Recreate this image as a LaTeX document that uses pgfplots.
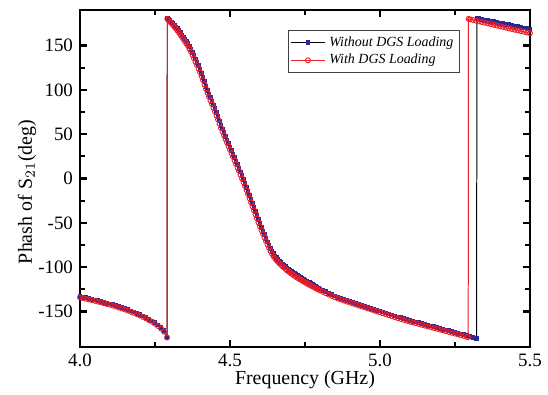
\documentclass[border=0pt]{standalone}
\usepackage{pgfplots}
\pgfplotsset{compat=1.18}
\usepackage{fontspec}
\setmainfont{Liberation Serif}
\definecolor{myred}{RGB}{236,28,36}
\definecolor{mynavy}{RGB}{40,40,150}
\begin{document}
\begin{tikzpicture}
\begin{axis}[
  scale only axis,
  width=225bp, height=168.5bp,
  xmin=4, xmax=5.5, ymin=-190, ymax=190,
  xtick={4,4.5,5,5.5}, ytick={-150,-100,-50,0,50,100,150},
  minor x tick num=1, minor y tick num=1,
  tick align=inside,
  major tick length=3.5bp, minor tick length=2.5bp,
  axis line style={line width=1.2pt},
  every tick/.style={line width=1.1pt, black},
  /pgf/number format/assume math mode=true,
  xticklabel style={/pgf/number format/.cd,fixed,fixed zerofill,precision=1},
  yticklabel style={/pgf/number format/.cd,fixed},
  tick label style={font=\fontsize{9.5}{11}\selectfont},
  label style={font=\fontsize{10}{12}\selectfont},
  xlabel={Frequency (GHz)},
  ylabel={Phash of S$_{21}$(deg)},
  xlabel style={at={(axis description cs:0.5,-0.098)}, anchor=center},
  ylabel style={at={(axis description cs:-0.118,0.46)}, anchor=center},
  legend style={at={(axis description cs:0.462,0.941)}, anchor=north west,
    font=\fontsize{7}{8}\selectfont\itshape, draw=darkgray, line width=0.5pt,
    inner sep=1pt, row sep=-1.5pt},
  legend cell align=left,
]
\addplot[black, line width=0.5pt, mark=square*, mark size=0.95bp,
  mark options={draw=mynavy, fill=mynavy}] table[row sep=\\] {
x y\\
4.00 -133\\ 4.01 -133.8\\ 4.02 -134.6\\ 4.03 -135.4\\ 4.04 -136.2\\ 4.05 -137\\
4.06 -137.8\\ 4.07 -138.7\\ 4.08 -139.6\\ 4.09 -140.5\\ 4.10 -141.4\\ 4.11 -142.4\\
4.12 -143.4\\ 4.13 -144.5\\ 4.14 -145.6\\ 4.15 -146.8\\ 4.16 -148\\ 4.17 -149.3\\
4.18 -150.6\\ 4.19 -152\\ 4.20 -153.5\\ 4.21 -155.1\\ 4.22 -156.8\\ 4.23 -158.6\\
4.24 -160.6\\ 4.25 -162.8\\ 4.26 -165.3\\ 4.27 -168.2\\ 4.28 -171.8\\ 4.29 -179\\
4.291 180.5\\ 4.295 179.5\\ 4.30 178\\ 4.305 176.5\\ 4.31 174.7\\ 4.315 172.8\\
4.32 170.9\\ 4.325 168.8\\ 4.33 166.6\\ 4.335 164.2\\ 4.34 161.8\\ 4.345 159.4\\
4.35 157\\ 4.355 154.6\\ 4.36 152.2\\ 4.365 149.1\\ 4.37 145.9\\ 4.375 142.3\\
4.38 138.5\\ 4.385 134.8\\ 4.39 131\\ 4.395 127\\ 4.40 123\\ 4.405 118.5\\
4.41 114\\ 4.415 109\\ 4.42 104\\ 4.425 99.5\\ 4.43 95\\ 4.435 91\\ 4.44 87\\
4.445 82.8\\ 4.45 78.5\\ 4.455 74\\ 4.46 69.5\\ 4.465 64.8\\ 4.47 60\\ 4.475 55.8\\
4.48 51.5\\ 4.485 47.5\\ 4.49 43.5\\ 4.495 39.5\\ 4.50 35.5\\ 4.505 31.5\\
4.51 27.5\\ 4.515 23.5\\ 4.52 19.5\\ 4.525 15.5\\ 4.53 11.5\\ 4.535 7.3\\ 4.54 3\\
4.545 -1.3\\ 4.55 -5.5\\ 4.555 -10\\ 4.56 -14.5\\ 4.565 -19.3\\ 4.57 -24\\
4.575 -28.5\\ 4.58 -33\\ 4.585 -37.5\\ 4.59 -42\\ 4.595 -46.5\\ 4.60 -51\\
4.605 -55.3\\ 4.61 -59.5\\ 4.615 -63.5\\ 4.62 -67.5\\ 4.625 -71.5\\ 4.63 -75\\
4.635 -78.5\\ 4.64 -82\\ 4.645 -84.9\\ 4.65 -87.3\\ 4.655 -89.4\\ 4.66 -91.4\\
4.665 -93.2\\ 4.67 -95\\ 4.675 -96.5\\ 4.68 -98\\ 4.685 -99.5\\ 4.69 -101\\
4.695 -102.3\\ 4.70 -103.5\\ 4.705 -104.8\\ 4.71 -106\\ 4.715 -107.3\\ 4.72 -108.5\\
4.725 -109.5\\ 4.73 -110.6\\ 4.735 -111.6\\ 4.74 -112.6\\ 4.745 -113.7\\ 4.75 -114.8\\
4.755 -115.8\\ 4.76 -116.8\\ 4.765 -117.7\\ 4.77 -118.7\\ 4.775 -119.6\\ 4.78 -120.6\\
4.785 -121.6\\ 4.79 -122.6\\ 4.795 -123.5\\ 4.80 -124.5\\
4.81 -126.2\\ 4.82 -127.8\\ 4.83 -129.4\\ 4.84 -130.9\\ 4.85 -132.4\\ 4.86 -133.8\\
4.87 -135\\ 4.88 -136.2\\ 4.89 -137.3\\ 4.90 -138.5\\ 4.91 -139.6\\ 4.92 -140.7\\
4.93 -141.8\\ 4.94 -142.9\\ 4.95 -144\\ 4.96 -145.1\\ 4.97 -146.2\\ 4.98 -147.3\\
4.99 -148.4\\ 5.00 -149.5\\ 5.01 -150.6\\ 5.02 -151.7\\ 5.03 -152.8\\ 5.04 -153.9\\
5.05 -155\\ 5.06 -156.1\\ 5.07 -157.1\\ 5.08 -158.1\\ 5.09 -159.1\\ 5.10 -160\\
5.11 -160.9\\ 5.12 -161.8\\ 5.13 -162.7\\ 5.14 -163.6\\ 5.15 -164.5\\ 5.16 -165.4\\
5.17 -166.3\\ 5.18 -167.2\\ 5.19 -168.1\\ 5.20 -169\\ 5.21 -169.9\\ 5.22 -170.8\\
5.23 -171.7\\ 5.24 -172.6\\ 5.25 -173.5\\ 5.26 -174.4\\ 5.27 -175.3\\ 5.28 -176.2\\
5.29 -177.1\\ 5.30 -178\\ 5.31 -178.9\\ 5.32 -179.8\\ 5.322 -180\\
5.323 180.5\\ 5.33 180\\ 5.34 179.3\\ 5.35 178.6\\ 5.36 178\\ 5.37 177.3\\
5.38 176.6\\ 5.39 175.9\\ 5.40 175.2\\ 5.41 174.6\\ 5.42 173.9\\ 5.43 173.2\\
5.44 172.5\\ 5.45 171.8\\ 5.46 171.2\\ 5.47 170.5\\ 5.48 169.8\\ 5.49 169.1\\
5.50 168.4\\
};
\addlegendentry{Without DGS Loading}
\addplot[myred, line width=0.5pt, mark=o, mark size=1.25bp,
  mark options={fill=white, line width=0.45pt}] table[row sep=\\] {
x y\\
4.00 -134\\ 4.01 -134.8\\ 4.02 -135.6\\ 4.03 -136.4\\ 4.04 -137.2\\ 4.05 -138\\
4.06 -138.8\\ 4.07 -139.7\\ 4.08 -140.6\\ 4.09 -141.5\\ 4.10 -142.4\\ 4.11 -143.4\\
4.12 -144.4\\ 4.13 -145.5\\ 4.14 -146.6\\ 4.15 -147.8\\ 4.16 -149\\ 4.17 -150.3\\
4.18 -151.6\\ 4.19 -153\\ 4.20 -154.5\\ 4.21 -156.1\\ 4.22 -157.8\\ 4.23 -159.6\\
4.24 -161.6\\ 4.25 -163.8\\ 4.26 -166.3\\ 4.27 -169.2\\ 4.28 -172.8\\ 4.29 -179.3\\
4.291 180\\ 4.295 178.5\\ 4.30 176.5\\ 4.305 175\\ 4.31 173\\ 4.315 171\\ 4.32 169\\
4.325 166.8\\ 4.33 164.5\\ 4.335 162\\ 4.34 159.5\\ 4.345 157\\ 4.35 154.5\\
4.355 152\\ 4.36 149.5\\ 4.365 146.3\\ 4.37 143\\ 4.375 139.3\\ 4.38 135.5\\
4.385 131.8\\ 4.39 128\\ 4.395 124\\ 4.40 120\\ 4.405 115.5\\ 4.41 111\\ 4.415 106\\
4.42 101\\ 4.425 96.5\\ 4.43 92\\ 4.435 88\\ 4.44 84\\ 4.445 79.8\\ 4.45 75.5\\
4.455 71\\ 4.46 66.5\\ 4.465 61.8\\ 4.47 57\\ 4.475 52.8\\ 4.48 48.5\\ 4.485 44.5\\
4.49 40.5\\ 4.495 36.5\\ 4.50 32.5\\ 4.505 28.5\\ 4.51 24.5\\ 4.515 20.5\\
4.52 16.5\\ 4.525 12.5\\ 4.53 8.5\\ 4.535 4.3\\ 4.54 0\\ 4.545 -4.3\\ 4.55 -8.5\\
4.555 -13\\ 4.56 -17.5\\ 4.565 -22.3\\ 4.57 -27\\ 4.575 -31.5\\ 4.58 -36\\
4.585 -40.5\\ 4.59 -45\\ 4.595 -49.5\\ 4.60 -54\\ 4.605 -58.3\\ 4.61 -62.5\\
4.615 -66.5\\ 4.62 -70.5\\ 4.625 -74.5\\ 4.63 -78\\ 4.635 -81.5\\ 4.64 -85\\
4.645 -87.7\\ 4.65 -90\\ 4.655 -92\\ 4.66 -94\\ 4.665 -95.8\\ 4.67 -97.5\\
4.675 -99\\ 4.68 -100.5\\ 4.685 -102\\ 4.69 -103.5\\ 4.695 -104.8\\ 4.70 -106\\
4.705 -107.3\\ 4.71 -108.5\\ 4.715 -109.8\\ 4.72 -111\\ 4.725 -112\\ 4.73 -113\\
4.735 -114\\ 4.74 -115\\ 4.745 -116\\ 4.75 -117\\ 4.755 -118\\ 4.76 -119\\
4.765 -119.9\\ 4.77 -120.8\\ 4.775 -121.7\\ 4.78 -122.6\\ 4.785 -123.5\\
4.79 -124.4\\ 4.795 -125.3\\ 4.80 -126.2\\
4.81 -127.8\\ 4.82 -129.4\\
4.83 -131\\ 4.84 -132.5\\ 4.85 -134\\ 4.86 -135.3\\ 4.87 -136.5\\ 4.88 -137.7\\
4.89 -138.8\\ 4.90 -139.9\\ 4.91 -141\\ 4.92 -142.1\\ 4.93 -143.2\\ 4.94 -144.3\\
4.95 -145.4\\ 4.96 -146.5\\ 4.97 -147.6\\ 4.98 -148.7\\ 4.99 -149.8\\ 5.00 -150.9\\
5.01 -152\\ 5.02 -153.1\\ 5.03 -154.2\\ 5.04 -155.3\\ 5.05 -156.4\\ 5.06 -157.5\\
5.07 -158.5\\ 5.08 -159.5\\ 5.09 -160.5\\ 5.10 -161.4\\ 5.11 -162.3\\ 5.12 -163.2\\
5.13 -164.1\\ 5.14 -165\\ 5.15 -165.9\\ 5.16 -166.8\\ 5.17 -167.7\\ 5.18 -168.6\\
5.19 -169.5\\ 5.20 -170.4\\ 5.21 -171.3\\ 5.22 -172.2\\ 5.23 -173.1\\ 5.24 -174\\
5.25 -174.9\\ 5.26 -175.8\\ 5.27 -176.7\\ 5.28 -177.6\\ 5.29 -178.5\\ 5.294 -178.8\\
5.295 180\\ 5.30 179.5\\ 5.31 178.7\\ 5.32 177.9\\ 5.33 177.1\\ 5.34 176.4\\
5.35 175.6\\ 5.36 174.8\\ 5.37 174\\ 5.38 173.2\\ 5.39 172.4\\ 5.40 171.6\\
5.41 170.9\\ 5.42 170.1\\ 5.43 169.3\\ 5.44 168.5\\ 5.45 167.7\\ 5.46 166.9\\
5.47 166.2\\ 5.48 165.4\\ 5.49 164.6\\ 5.50 163.8\\
};
\addlegendentry{With DGS Loading}
\end{axis}
\pgfresetboundingbox
\path[use as bounding box] (-40bp,-24bp) rectangle (234bp,173.5bp);
\end{tikzpicture}
\end{document}
